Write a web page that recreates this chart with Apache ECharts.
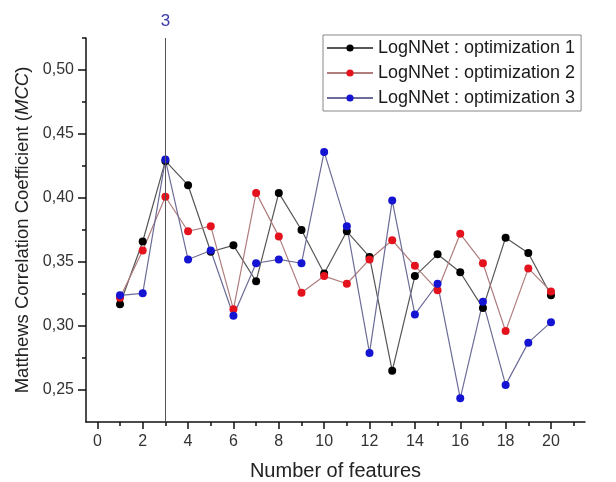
<!DOCTYPE html>
<html>
<head>
<meta charset="utf-8">
<script src="https://cdn.jsdelivr.net/npm/echarts@6/dist/echarts.min.js"></script>
<style>
  html, body { margin: 0; padding: 0; background: #fff; }
  #chart { width: 616px; height: 482px; }
</style>
</head>
<body>
<div id="chart"></div>
<script>
var features = [1, 2, 3, 4, 5, 6, 7, 8, 9, 10, 11, 12, 13, 14, 15, 16, 17, 18, 19, 20];
var opt1 = [0.317, 0.366, 0.429, 0.410, 0.358, 0.363, 0.335, 0.404, 0.375, 0.341, 0.374, 0.354, 0.265, 0.339, 0.356, 0.342, 0.314, 0.369, 0.357, 0.324];
var opt2 = [0.322, 0.359, 0.401, 0.374, 0.378, 0.313, 0.404, 0.370, 0.326, 0.339, 0.333, 0.352, 0.367, 0.347, 0.328, 0.372, 0.349, 0.296, 0.345, 0.327];
var opt3 = [0.324, 0.3255, 0.430, 0.352, 0.359, 0.308, 0.349, 0.352, 0.349, 0.436, 0.378, 0.279, 0.398, 0.309, 0.333, 0.2435, 0.319, 0.254, 0.287, 0.303];
var seriesNames = ['LogNNet : optimization 1', 'LogNNet : optimization 2', 'LogNNet : optimization 3'];
var xTicks = [0, 2, 4, 6, 8, 10, 12, 14, 16, 18, 20];
var xMinorTicks = [1, 3, 5, 7, 9, 11, 13, 15, 17, 19, 21];
var yTicks = [0.25, 0.30, 0.35, 0.40, 0.45, 0.50];
var yMinorTicks = [0.275, 0.325, 0.375, 0.425, 0.475, 0.525];
var bestFeatures = 3;

function pairs(vals) {
    return features.map(function (f, i) { return [f, vals[i]]; });
}

var font = "'Liberation Sans', Arial, sans-serif";
var chart = echarts.init(document.getElementById('chart'));

var axisLine = { show: true, onZero: false, lineStyle: { color: '#111', width: 1.5 } };

function makeSeries(name, vals, dot, line) {
    return {
        name: name,
        type: 'line',
        data: pairs(vals),
        symbol: 'circle',
        symbolSize: 8,
        itemStyle: { color: dot },
        lineStyle: { color: line, width: 1.2 },
        emphasis: { disabled: true },
        z: 3
    };
}

var s1 = makeSeries(seriesNames[0], opt1, '#000000', '#555555');
var s2 = makeSeries(seriesNames[1], opt2, '#e3121c', '#b07c7c');
var s3 = makeSeries(seriesNames[2], opt3, '#1414d2', '#6c6c98');
s1.markLine = {
    symbol: 'none',
    silent: true,
    data: [{ xAxis: bestFeatures }],
    lineStyle: { color: '#555', type: 'solid', width: 1 },
    label: { position: 'end', formatter: String(bestFeatures), color: '#3a3aa8', fontSize: 17, fontFamily: font, distance: 8 }
};

var option = {
    animation: false,
    grid: { left: 86, right: 31, top: 38, bottom: 60, outerBoundsMode: 'none' },
    legend: {
        orient: 'vertical',
        left: 323,
        top: 35,
        itemWidth: 46,
        itemHeight: 9,
        itemGap: 7,
        padding: [4, 6, 4, 3],
        borderColor: '#888',
        borderWidth: 1,
        textStyle: { fontFamily: font, fontSize: 18, color: '#1a1a1a' },
        data: seriesNames
    },
    xAxis: [
        {
            type: 'value',
            min: -0.5,
            max: 21.5,
            name: 'Number of features',
            nameLocation: 'middle',
            nameGap: 39,
            nameTextStyle: { fontFamily: font, fontSize: 20, color: '#222' },
            axisLine: axisLine,
            axisTick: { show: true, customValues: xTicks, length: 7, lineStyle: { color: '#111', width: 1.5 } },
            axisLabel: { customValues: xTicks, fontFamily: font, fontSize: 16, color: '#333', margin: 12 },
            splitLine: { show: false }
        },
        {
            type: 'value',
            position: 'bottom',
            offset: 0,
            min: -0.5,
            max: 21.5,
            axisLine: { show: false, onZero: false },
            axisTick: { show: true, customValues: xMinorTicks, length: 4, lineStyle: { color: '#111', width: 1.5 } },
            axisLabel: { show: false },
            splitLine: { show: false }
        }
    ],
    yAxis: [
        {
            type: 'value',
            min: 0.225,
            max: 0.525,
            name: '{n|Matthews Correlation Coefficient (}{i|MCC}{n|)}',
            nameLocation: 'middle',
            nameRotate: 90,
            nameGap: 52,
            nameTextStyle: {
                rich: {
                    n: { fontFamily: font, fontSize: 18.5, color: '#222' },
                    i: { fontFamily: font, fontSize: 18.5, color: '#222', fontStyle: 'italic' }
                }
            },
            axisLine: axisLine,
            axisTick: { show: true, customValues: yTicks, length: 8, lineStyle: { color: '#111', width: 1.5 } },
            axisLabel: {
                customValues: yTicks,
                fontFamily: font,
                fontSize: 16,
                color: '#333',
                margin: 12,
                formatter: function (v) { return v.toFixed(2).replace('.', ','); }
            },
            splitLine: { show: false }
        },
        {
            type: 'value',
            position: 'left',
            offset: 0,
            min: 0.225,
            max: 0.525,
            axisLine: { show: false, onZero: false },
            axisTick: { show: true, customValues: yMinorTicks, length: 4, lineStyle: { color: '#111', width: 1.5 } },
            axisLabel: { show: false },
            splitLine: { show: false }
        }
    ],
    series: [s1, s2, s3]
};

chart.setOption(option);
</script>
</body>
</html>
